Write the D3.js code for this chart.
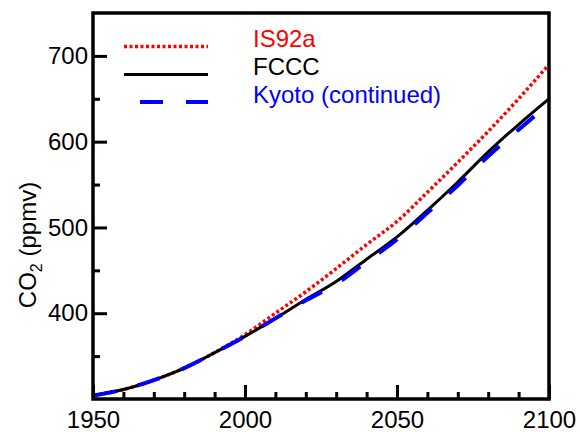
<!DOCTYPE html>
<html>
<head>
<meta charset="utf-8">
<script src="https://cdn.jsdelivr.net/npm/d3@7"></script>
<style>
  body { margin: 0; background: #fff; }
  text { font-family: "Liberation Sans", Arial, Helvetica, sans-serif; }
</style>
</head>
<body>
<div id="vis"></div>
<script>

// years on the x axis (every 10 years)
var years = [1950, 1960, 1970, 1980, 1990, 2000, 2010, 2020, 2030, 2040, 2050, 2060, 2070, 2080, 2090, 2100];

// CO2 concentration (ppmv)
var is92a = [304, 311, 322, 336, 354, 375, 400, 425, 452, 480, 507, 541, 576, 612, 650, 690];
var fccc  = [304, 311, 322, 336, 354, 373, 394, 416, 437, 463, 489, 520, 553, 588, 620, 650];
var kyoto = [304, 311, 322, 336, 354, 373, 394, 415, 434, 460, 486, 517, 549, 583, 614, 644];

var seriesNames = ['IS92a', 'FCCC', 'Kyoto (continued)'];
var xMajor = [1950, 2000, 2050, 2100];
var xMinor = [1960, 1970, 1980, 1990, 2010, 2020, 2030, 2040, 2060, 2070, 2080, 2090];
var yMajor = [400, 500, 600, 700];
var yMinor = [350, 450, 550, 650];

var width = 580;
var height = 432;
var plot = { left: 93, right: 549, top: 13, bottom: 399 };

var x = d3.scaleLinear().domain([1950, 2100]).range([plot.left, plot.right]);
var y = d3.scaleLinear().domain([300, 750]).range([plot.bottom, plot.top]);

var svg = d3.select('#vis')
  .append('svg')
  .attr('width', width)
  .attr('height', height);

// style for each series: red dots, black solid, blue long dashes
var styles = [
  { values: is92a, color: '#ff0000', width: 3.5, dash: '3,2.5' },
  { values: fccc,  color: '#000000', width: 3,   dash: null },
  { values: kyoto, color: '#0000ff', width: 4,   dash: '23,23' }
];

var line = d3.line()
  .curve(d3.curveMonotoneX)
  .x(function(d) { return x(d.year); })
  .y(function(d) { return y(d.value); });

styles.forEach(function(s) {
  var pts = years.map(function(yr, i) { return { year: yr, value: s.values[i] }; });
  svg.append('path')
    .datum(pts)
    .attr('d', line)
    .attr('fill', 'none')
    .attr('stroke', s.color)
    .attr('stroke-width', s.width)
    .attr('stroke-dasharray', s.dash);
});

// axes with inward ticks
svg.append('g')
  .attr('transform', 'translate(0,' + plot.bottom + ')')
  .call(d3.axisBottom(x).tickValues(xMajor).tickFormat(d3.format('d')).tickSize(-14).tickPadding(12));
svg.append('g')
  .attr('transform', 'translate(0,' + plot.bottom + ')')
  .call(d3.axisBottom(x).tickValues(xMinor).tickFormat('').tickSize(-7));

svg.append('g')
  .attr('transform', 'translate(' + plot.left + ',0)')
  .call(d3.axisLeft(y).tickValues(yMajor).tickSize(-14).tickPadding(5));
svg.append('g')
  .attr('transform', 'translate(' + plot.left + ',0)')
  .call(d3.axisLeft(y).tickValues(yMinor).tickFormat('').tickSize(-7));

svg.selectAll('.domain').remove();
svg.selectAll('.tick line').attr('stroke', '#000').attr('stroke-width', 3);
svg.selectAll('.tick text').attr('font-size', 24).attr('fill', '#000');

// frame
svg.append('rect')
  .attr('x', plot.left)
  .attr('y', plot.top)
  .attr('width', plot.right - plot.left)
  .attr('height', plot.bottom - plot.top)
  .attr('fill', 'none')
  .attr('stroke', '#000')
  .attr('stroke-width', 3.5);

// y axis title
var ytitle = svg.append('text')
  .attr('transform', 'translate(36,245) rotate(-90)')
  .attr('text-anchor', 'middle')
  .attr('font-size', 24)
  .attr('fill', '#000');
ytitle.append('tspan').text('CO');
ytitle.append('tspan').attr('font-size', 16).attr('dy', 6).text('2');
ytitle.append('tspan').attr('dy', -6).text(' (ppmv)');

// legend
var legendY = [46.5, 74.5, 102];
var legend = svg.selectAll('.legend')
  .data(styles)
  .enter()
  .append('g')
  .attr('class', 'legend');

legend.append('line')
  .attr('x1', 124)
  .attr('x2', 208)
  .attr('y1', function(d, i) { return legendY[i]; })
  .attr('y2', function(d, i) { return legendY[i]; })
  .attr('stroke', function(d) { return d.color; })
  .attr('stroke-width', function(d) { return d.width; })
  .attr('stroke-dasharray', function(d) { return d.dash; })
  .attr('stroke-dashoffset', function(d, i) { return i === 2 ? 30 : 0; });

legend.append('text')
  .attr('x', 253)
  .attr('y', function(d, i) { return legendY[i] + 0.5; })
  .attr('font-size', 24)
  .attr('fill', function(d) { return d.color; })
  .text(function(d, i) { return seriesNames[i]; });

</script>
</body>
</html>
